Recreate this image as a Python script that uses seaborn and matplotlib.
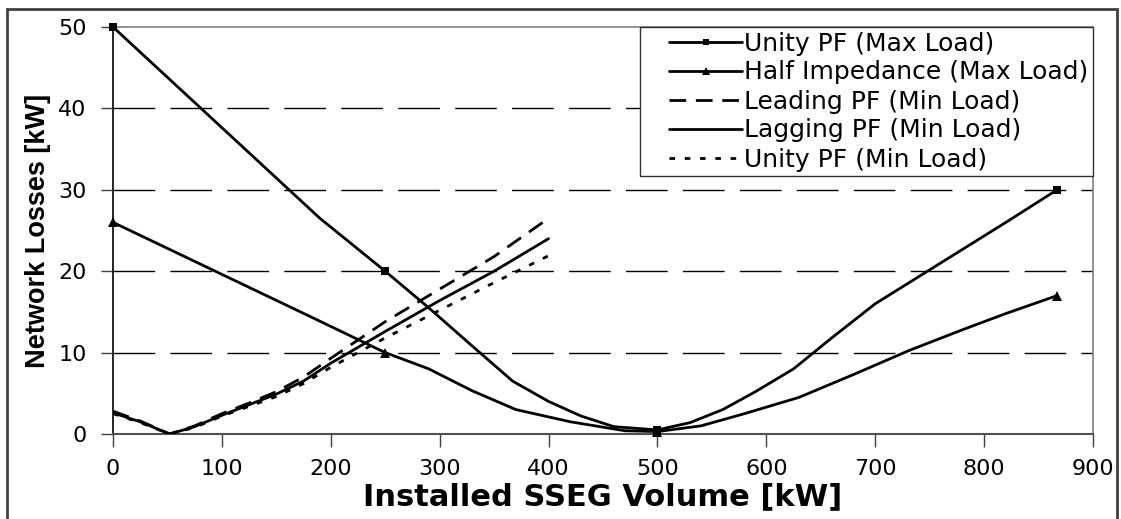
import numpy as np
import pandas as pd
import matplotlib
matplotlib.use("Agg")
import matplotlib.pyplot as plt
from matplotlib.lines import Line2D
from matplotlib.patches import Rectangle
from matplotlib.legend_handler import HandlerLine2D
import seaborn as sns

# ---- data ----
x_unity_max = [0, 190, 250, 290, 330, 367, 400, 430, 460, 500, 530, 560, 590, 625, 660, 700, 760, 820, 867]
y_unity_max = [50, 26.5, 20, 15.5, 10.8, 6.5, 4.0, 2.2, 0.9, 0.5, 1.4, 3.0, 5.2, 8.0, 11.8, 16.0, 21.0, 26.0, 30.0]
mk_unity_max = [0, 250, 500, 867]

x_half_imp = [0, 180, 250, 290, 330, 370, 420, 470, 500, 540, 580, 630, 680, 730, 780, 820, 867]
y_half_imp = [26, 14.5, 10, 8, 5.3, 3.0, 1.5, 0.4, 0.3, 1.0, 2.5, 4.5, 7.3, 10.2, 12.8, 14.8, 17]
mk_half_imp = [0, 250, 500, 867]

x_min_load = [0, 25, 52, 75, 100, 125, 150, 175, 200, 250, 300, 350, 400]
y_leading = [2.8, 1.6, 0, 1.0, 2.5, 3.8, 5.2, 7.0, 9.3, 13.8, 17.8, 21.8, 26.5]
y_lagging = [2.6, 1.5, 0, 0.9, 2.3, 3.6, 4.9, 6.5, 8.7, 12.6, 16.4, 20.0, 24.0]
y_unity_min = [2.5, 1.4, 0, 0.8, 2.2, 3.4, 4.6, 6.2, 8.2, 11.8, 15.2, 18.6, 21.9]

labels = ["Unity PF (Max Load)", "Half Impedance (Max Load)", "Leading PF (Min Load)",
          "Lagging PF (Min Load)", "Unity PF (Min Load)"]
x_ticks = [0, 100, 200, 300, 400, 500, 600, 700, 800, 900]
y_ticks = [0, 10, 20, 30, 40, 50]

sns.set_theme(style="white")
plt.rcParams['font.family'] = ['DejaVu Sans']
plt.rcParams['text.color'] = 'black'
plt.rcParams['axes.labelcolor'] = 'black'
plt.rcParams['xtick.color'] = 'black'
plt.rcParams['ytick.color'] = 'black'

fig = plt.figure(figsize=(11.21, 5.19), dpi=100)
ax = fig.add_axes([113/1121, 1-434/519, (1093-113)/1121, (434-27)/519])

# gridlines
for yv in y_ticks[1:-1]:
    ax.axhline(yv, color='black', lw=1.0, dashes=(30, 11), zorder=0)
ax.axhline(50, color='#808080', lw=1.2, zorder=0, clip_on=False)

lw = 2.0
dash_lead = (0, (6, 3.5))
dash_unity = (0, (2, 3.5))

def idx(xs, mk):
    return [xs.index(v) for v in mk]

sns.lineplot(x=x_unity_max, y=y_unity_max, ax=ax, color='black', lw=lw, sort=False,
             estimator=None, marker='s', markersize=6, markevery=idx(x_unity_max, mk_unity_max),
             markeredgewidth=0, zorder=4, clip_on=False)
sns.lineplot(x=x_half_imp, y=y_half_imp, ax=ax, color='black', lw=lw, sort=False,
             estimator=None, marker='^', markersize=7, markevery=idx(x_half_imp, mk_half_imp),
             markeredgewidth=0, zorder=3, clip_on=False)
sns.lineplot(x=x_min_load, y=y_leading, ax=ax, color='black', lw=lw, sort=False,
             estimator=None, linestyle=dash_lead, zorder=3)
sns.lineplot(x=x_min_load, y=y_lagging, ax=ax, color='black', lw=lw, sort=False,
             estimator=None, zorder=3)
sns.lineplot(x=x_min_load, y=y_unity_min, ax=ax, color='black', lw=lw, sort=False,
             estimator=None, linestyle=dash_unity, zorder=3)

ax.set_xlim(0, 900)
ax.set_ylim(0, 50)
ax.set_xticks(x_ticks)
ax.set_yticks(y_ticks)
ax.tick_params(axis='both', direction='out', length=9, width=1, color='#404040',
               labelsize=16, labelcolor='black', bottom=True, left=True)
ax.tick_params(axis='y', pad=10)
ax.tick_params(axis='x', pad=9)

ax.spines['left'].set_color('black')
ax.spines['left'].set_linewidth(1.2)
ax.spines['bottom'].set_color('#505050')
ax.spines['bottom'].set_linewidth(1.5)
ax.spines['right'].set_color('#808080')
ax.spines['right'].set_linewidth(1.2)
ax.spines['top'].set_visible(False)
ax.grid(False)

ax.set_xlabel("Installed SSEG Volume [kW]", fontsize=22, fontweight='bold', labelpad=2,
              color='black')
ax.set_ylabel("Network Losses [kW]", fontsize=19.5, fontweight='bold', labelpad=5,
              family=['Liberation Sans'], color='black')

handles = [
    Line2D([], [], color='black', lw=lw, marker='s', markersize=5, markeredgewidth=0),
    Line2D([], [], color='black', lw=lw, marker='^', markersize=6, markeredgewidth=0),
    Line2D([], [], color='black', lw=lw, linestyle=dash_lead),
    Line2D([], [], color='black', lw=lw),
    Line2D([], [], color='black', lw=lw, linestyle=dash_unity),
]
leg_fs = 18
hl = HandlerLine2D(xpad=1.0)
leg = ax.legend(handles, labels, loc='upper right', bbox_to_anchor=(1.0, 1.0),
                frameon=True, fancybox=False, framealpha=1, edgecolor='#303030',
                fontsize=leg_fs, handlelength=3.9, handletextpad=0.1, labelspacing=0.2,
                borderpad=0.18, borderaxespad=0, labelcolor='black',
                handler_map={h: hl for h in handles})
leg.get_frame().set_linewidth(1.0)

# figure border
fig.patches.append(Rectangle((7/1121, -0.05), (1117-7)/1121, 1.05 - 9/519,
                             transform=fig.transFigure, fill=False, edgecolor='#404040',
                             lw=2, zorder=10))

fig.savefig("out.png", dpi=100)
